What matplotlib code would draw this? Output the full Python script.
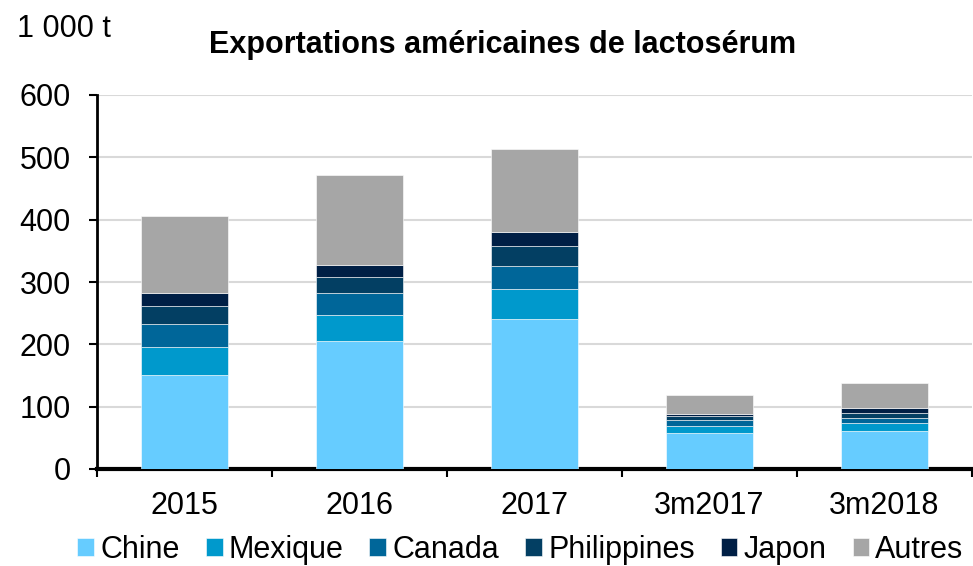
import numpy as np
import matplotlib
matplotlib.use("Agg")
import matplotlib.pyplot as plt
from matplotlib.ticker import FixedLocator

plt.rcParams['font.family'] = ['Liberation Sans', 'DejaVu Sans']

# Data (1 000 t)
categories = ["2015", "2016", "2017", "3m2017", "3m2018"]
chine = [151, 206, 240, 58.5, 61.5]
mexique = [44.5, 41, 49, 10.5, 12.5]
canada = [37.5, 36, 36, 9.5, 7.7]
philippines = [29, 25.5, 32, 7, 8]
japon = [20.5, 18, 23, 3, 8]
autres = [123, 144.5, 134, 31, 40]

series = [("Chine", chine, "#66CCFF"),
          ("Mexique", mexique, "#0099CC"),
          ("Canada", canada, "#006699"),
          ("Philippines", philippines, "#033F63"),
          ("Japon", japon, "#001F45"),
          ("Autres", autres, "#A6A6A6")]

fs = 22

fig = plt.figure(figsize=(9.73, 5.66), dpi=100)
ax = fig.add_axes([97/973, 1-469/566, 875/973, (469-95)/566])

x = np.arange(len(categories))
bottom = np.zeros(len(categories))
for name, vals, col in series:
    ax.bar(x, vals, width=0.5, bottom=bottom, color=col, label=name,
           edgecolor="white", linewidth=0.4, zorder=3)
    bottom += np.array(vals)

ax.set_xlim(-0.5, len(categories)-0.5)
ax.set_ylim(0, 600)
ax.set_yticks(range(0, 601, 100))
ax.yaxis.grid(True, color="#D9D9D9", linewidth=1.5, zorder=0)
ax.set_axisbelow(True)

ax.set_xticks(x)
ax.set_xticklabels(categories)
ax.xaxis.set_minor_locator(FixedLocator(np.arange(-0.5, len(categories), 1)))
ax.tick_params(axis="x", which="major", length=0, pad=16, labelsize=fs)
ax.tick_params(axis="x", which="minor", length=6, width=1.5, direction="out")
ax.tick_params(axis="y", length=6, width=1.5, pad=13, labelsize=fs)

for s in ["top", "right"]:
    ax.spines[s].set_visible(False)
ax.spines["left"].set_linewidth(2)
ax.spines["bottom"].set_linewidth(3)

fig.text(17/973, 1-37/566, "1 000 t", fontsize=fs, ha="left", va="baseline")
fig.text(503/973, 1-53/566, "Exportations américaines de lactosérum",
         fontsize=22, fontweight="bold", ha="center", va="baseline")

fig.legend(loc="lower center", bbox_to_anchor=(0.535, -0.046), ncol=6,
           frameon=False, fontsize=fs, handlelength=0.55, handleheight=0.55,
           handletextpad=0.2, columnspacing=0.85)

fig.savefig("out.png", dpi=100)
